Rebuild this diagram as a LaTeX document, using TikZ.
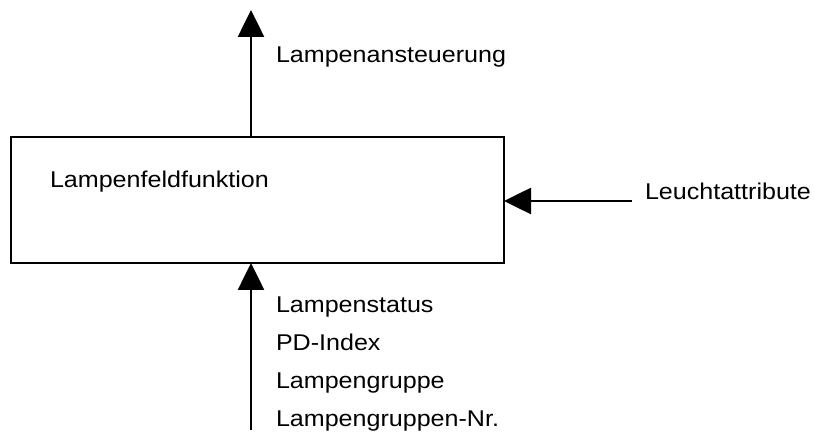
\documentclass[tikz,border=0pt]{standalone}
\usepackage{fontspec}
\setmainfont{Liberation Sans}[FakeStretch=1.1]
\usetikzlibrary{arrows.meta}
\begin{document}
\begin{tikzpicture}[x=1pt,y=-1pt,
  label/.style={anchor=base west,inner sep=0pt,outer sep=0pt,font=\fontsize{22.8}{27}\selectfont},
  func/.style={draw,line width=2pt,inner sep=0pt,outer sep=0pt,minimum width=493pt,minimum height=126pt},
  flow/.style={line width=2.6pt,-{Triangle[length=27pt,width=26pt]}}]
  \useasboundingbox (0,0) rectangle (814,435);
  % function block
  \node[func,anchor=north west] (box) at (11,137) {};
  \node[label] (name) at (50,188) {Lampenfeldfunktion};
  % free ends of the flows
  \coordinate (outend) at (251,10);
  \coordinate (attrstart) at (632,201);
  \coordinate (instart) at (251,430);
  % output flow
  \draw[flow] (box.north -| outend) -- (outend);
  \node[label] (out) at (276,63) {Lampenansteuerung};
  % attribute input
  \draw[flow] (attrstart) -- (attrstart -| box.east);
  \node[label] (attr) at (645,200) {Leuchtattribute};
  % status inputs
  \draw[flow] (instart) -- (instart |- box.south);
  \node[label] (in1) at (276,313) {Lampenstatus};
  \node[label] (in2) at (276,351) {PD-Index};
  \node[label] (in3) at (276,389) {Lampengruppe};
  \node[label] (in4) at (276,427) {Lampengruppen-Nr.};
\end{tikzpicture}
\end{document}
